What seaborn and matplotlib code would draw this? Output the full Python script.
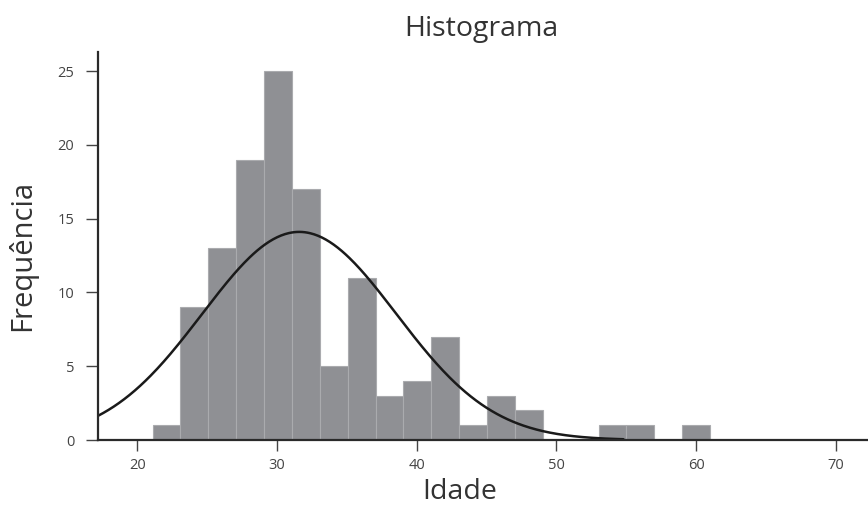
import numpy as np
import pandas as pd
import matplotlib
matplotlib.use("Agg")
import matplotlib.pyplot as plt
import seaborn as sns

# ---- data ----
bin_edges = [21.1 + 1.995 * i for i in range(21)]
counts = [1, 9, 13, 19, 25, 17, 5, 11, 3, 4, 7, 1, 3, 2, 0, 0, 1, 1, 0, 1]
fit_mean = 31.6
fit_sd = 6.94
curve_range = [17.2, 54.8]
x_ticks = [20, 30, 40, 50, 60, 70]
y_ticks = [0, 5, 10, 15, 20, 25]
title = "Histograma"
xlabel = "Idade"
ylabel = "Frequência"

sns.set_style("ticks")
plt.rcParams["font.family"] = ["Open Sans", "DejaVu Sans"]

centers = [(bin_edges[i] + bin_edges[i + 1]) / 2 for i in range(len(counts))]
df = pd.DataFrame({"idade": centers, "n": counts})

bin_w = bin_edges[1] - bin_edges[0]
xs = np.linspace(curve_range[0], curve_range[1], 400)
ys = sum(counts) * bin_w * np.exp(-0.5 * ((xs - fit_mean) / fit_sd) ** 2) / (fit_sd * np.sqrt(2 * np.pi))
curve = pd.DataFrame({"x": xs, "y": ys})

fig = plt.figure(figsize=(8.68, 5.05), dpi=100)
ax = fig.add_axes([98 / 868, 65 / 505, 770 / 868, 388 / 505])

sns.histplot(data=df, x="idade", weights="n", bins=bin_edges, ax=ax,
             color="#8f9094", edgecolor="#aaabae", linewidth=0.8, alpha=1.0)
sns.lineplot(data=curve, x="x", y="y", ax=ax, color="#1a1a1a", linewidth=1.8)

ax.set_xlim(17.2, 72.3)
ax.set_ylim(0, 26.3)
ax.set_xticks(x_ticks)
ax.set_yticks(y_ticks)
ax.set_xlabel("")
ax.set_ylabel("")

for s in ["top", "right"]:
    ax.spines[s].set_visible(False)
for s in ["left", "bottom"]:
    ax.spines[s].set_color("#2a2a2a")
    ax.spines[s].set_linewidth(1.6)

ax.tick_params(axis="x", length=8, width=1.0, color="#444444", pad=5,
               labelsize=10.5, labelcolor="#444444")
ax.tick_params(axis="y", length=9, width=1.0, color="#444444", pad=8,
               labelsize=10.5, labelcolor="#444444")

fig.text(481 / 868, 1 - 29 / 505, title, ha="center", va="center",
         fontsize=20.5, color="#333333")
fig.text(460 / 868, 1 - 492 / 505, xlabel, ha="center", va="center",
         fontsize=20.5, color="#333333")
fig.text(22 / 868, 1 - 255 / 505, ylabel, ha="center", va="center",
         rotation=90, fontsize=21, color="#333333")

fig.savefig("out.png", dpi=100)
